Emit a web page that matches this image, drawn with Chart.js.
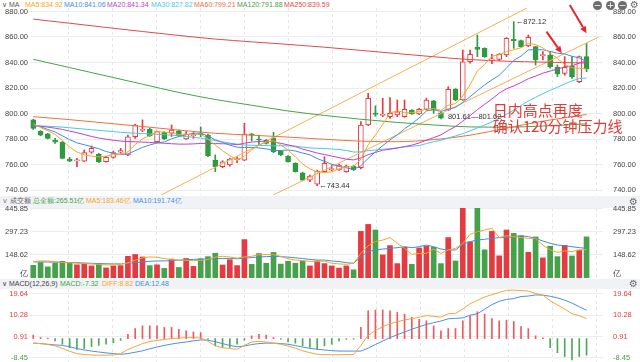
<!DOCTYPE html>
<html>
<head>
<meta charset="utf-8">
<script src="https://cdn.jsdelivr.net/npm/chart.js@4.4.0/dist/chart.umd.min.js"></script>
<style>
html,body{margin:0;padding:0;background:#fff;}
#wrap{position:relative;width:640px;height:362px;overflow:hidden;font-family:"Liberation Sans",Arial,sans-serif;}
.band{position:absolute;left:0;width:640px;background:#f1f2f5;}
.row{position:absolute;left:0;width:640px;height:10px;font-size:7px;line-height:10px;white-space:nowrap;}
.row span{position:absolute;top:0;}
canvas{position:absolute;left:0;}
.ico{position:absolute;width:9px;height:9px;border-radius:50%;background:#6d6d6d;color:#fff;font-size:9px;line-height:9px;text-align:center;font-family:"DejaVu Sans",sans-serif;}
.gear{position:absolute;font-size:10px;line-height:10px;color:#6d6d6d;font-family:"DejaVu Sans",sans-serif;}
</style>
</head>
<body>
<div id="wrap">
  <div class="band" style="top:196px;height:12px"></div>
  <div class="band" style="top:279px;height:10px"></div>
  <div class="row" style="top:0px">
    <span style="left:2px;color:#555">∨ MA</span>
    <span style="left:25px;color:#f5a623">MA5:834.92</span>
    <span style="left:64px;color:#3e8ee6">MA10:841.06</span>
    <span style="left:107px;color:#c23fd0">MA20:841.34</span>
    <span style="left:151px;color:#46c8ea">MA30:827.82</span>
    <span style="left:194px;color:#f07040">MA60:799.21</span>
    <span style="left:237px;color:#46a346">MA120:791.88</span>
    <span style="left:284px;color:#e24a4a">MA250:839.59</span>
  </div>
  <div class="row" style="top:196px">
    <span style="left:2px;color:#555">∨ 成交额</span>
    <span style="left:33px;color:#45a24b">总金额:265.51亿</span>
    <span style="left:86px;color:#f5a623">MA5:183.46亿</span>
    <span style="left:133px;color:#3e8ee6">MA10:191.74亿</span>
  </div>
  <div class="row" style="top:279px">
    <span style="left:2px;color:#444">∨ MACD(12,26,9)</span>
    <span style="left:60px;color:#45a24b">MACD:-7.32</span>
    <span style="left:102px;color:#f5a623">DIFF:8.82</span>
    <span style="left:135px;color:#3e8ee6">DEA:12.48</span>
  </div>
  <canvas id="cMain" width="640" height="196" style="top:0px"></canvas>
  <canvas id="cVol" width="640" height="74" style="top:204px"></canvas>
  <canvas id="cMacd" width="640" height="73" style="top:289px"></canvas>
  <div class="ico" style="left:593px;top:1px">−</div>
  <div class="ico" style="left:606px;top:1px">+</div>
  <div class="ico" style="left:618px;top:1px">−</div>
  <div class="gear" style="left:630px;top:0px">⚙</div>
  <div class="gear" style="left:629px;top:197px">⚙</div>
  <div class="gear" style="left:629px;top:279px">⚙</div>
</div>
<script>
// ---------------- data ----------------
const opens  = [795,786,784,779.2,777.4,764.3,762.9,762.7,769.6,768,762.2,765.6,769.6,767.5,781.8,786.8,787.8,778,785.2,784.5,786.5,780,782.6,784,783.1,763.5,758.3,759.6,763.8,763.5,784,779.7,779.2,781,770.6,766.7,760.9,753.5,747.8,744.6,754.4,756,755.7,754.4,758.8,757.5,791,800.3,798.5,797.5,798.8,797.5,802.7,799.6,803.3,810,800.5,802.7,819.2,810.6,840.6,851.9,851.1,842,842.5,846,858.2,857.1,853,852.4,845.4,845.9,836.2,831.5,837.2,825,844.6];
const highs  = [795.5,786.5,784.5,780.5,778,765.6,764.8,771.4,774.6,768.8,766.5,770.6,772.7,783.1,791.6,795,788.4,786.3,785.8,791,787,785.8,785,789.5,783.9,767.5,763,765,766,792.3,784.3,783.1,779.7,785.3,771,767,761.4,754,751.8,755.5,766.1,759.6,760.3,759.6,759.2,793.6,815.8,806,811.9,812.5,810.6,810.6,803,804,812,810.3,801,821,819.5,849.8,849.8,861.6,851.5,846.4,847,859.5,872.12,857.5,861.6,852.8,848.5,848.5,838,844.6,844.6,845.1,855];
const lows   = [787.5,782.5,780,776.6,764.5,762.2,758.3,762.2,768.8,761.5,761.8,765,768.8,767,780.5,785.8,782,777.4,779.5,782,782,779.7,780.5,781.8,766.1,754.4,757.5,758.8,761.4,763,778.5,775.3,776,769.3,766.8,761.8,754,747.3,746.5,743.44,754,755,755.3,754,755.3,756.5,790.5,797.8,797.5,796.2,797.5,797,799.2,799,802.7,800.1,795.8,802.2,810,810.3,839.4,844.6,844,839,841.5,844.6,851.1,852,852.4,838,842,835.5,829,830,827.6,824.2,832.8];
const closes = [788.4,783,780.5,777.6,764.8,762.7,763.4,769.3,772.7,762,765.6,769.3,770.9,781.8,791,787.5,782.6,785.8,780,787,782.6,783.7,783.4,783.4,767,758.3,762.2,764.3,764.3,783.9,783.1,779.2,776.6,770,767.5,762.2,754.4,747.8,751,754.9,760.9,756.5,759.6,758.8,755.7,791,811.9,799.3,799,800.1,801.4,803.3,799.6,803.3,810.6,802.7,796.3,818.9,810.6,840.6,846.4,850.3,844.6,842.8,846.4,859,857.2,852.4,859.7,842,846,836.7,831,836.2,828.9,844.6,834.92];

const ma5  = [792,789,786.5,783.5,778.9,773.7,769.8,767.6,766.6,766.0,766.6,767.8,768.1,769.9,775.7,780.1,782.8,785.7,785.4,784.6,783.6,783.8,783.3,784.0,780.0,775.2,770.9,767.0,763.2,766.6,771.6,775.1,777.5,778.7,775.4,771.2,766.1,760.4,756.6,754.1,753.8,754.2,756.6,758.1,758.3,764.3,775.4,783.3,791.4,800.3,802.3,800.6,800.7,801.5,803.6,803.9,802.5,806.4,807.8,813.8,822.6,833.4,838.5,844.9,846.1,848.6,850.0,851.6,854.9,854.1,851.5,847.4,843.1,838.4,835.8,835.5,834.92];
const ma10 = [791,789.5,787.5,785.5,782.5,779.5,777,775.5,774,772.4,770.2,768.8,767.8,768.3,770.9,773.4,775.3,776.9,777.7,780.2,781.9,783.3,784.5,784.7,782.3,779.4,777.3,775.2,773.6,773.3,773.4,773.0,772.3,770.9,771.0,771.4,770.6,769.0,767.6,764.7,762.5,760.2,758.5,757.4,756.2,759.1,764.8,770.0,774.8,779.3,783.3,788.0,792.0,796.5,802.0,803.1,801.6,803.5,804.7,808.7,813.2,817.9,822.4,826.4,830.0,835.6,841.7,845.0,849.9,850.1,850.0,848.7,847.3,846.7,844.9,843.5,841.06];
const ma20 = [790.5,790,789.3,788.5,787.5,786.2,785,783.5,782,780.8,779.8,779,778.4,778,777.8,777.6,777.3,777,776.7,776.3,776.0,776.0,776.2,776.5,776.6,776.4,776.3,776.1,775.6,776.7,777.6,778.1,778.4,777.8,776.6,775.4,774.0,772.1,770.6,769.0,767.9,766.6,765.4,764.2,763.6,765.2,767.7,769.5,771.2,772.0,772.9,774.1,775.2,776.9,779.1,781.1,783.2,786.7,789.7,794.0,798.3,803.0,807.2,811.4,816.0,819.4,821.6,824.3,827.3,829.4,831.6,833.3,834.9,836.5,837.4,839.5,841.34];
const ma30 = [790.5,790.3,790,789.7,789.3,788.8,788.3,787.8,787.3,786.8,786.3,785.8,785.3,784.9,784.6,784.3,784,783.7,783.4,783,782.5,782,781.4,780.7,779.8,778.8,777.8,776.8,776,775.3,775.1,775.0,774.9,774.6,774.7,774.7,774.4,773.7,773.0,772.7,772.6,772.1,771.8,771.0,769.8,769.9,770.9,771.4,772.0,772.4,773.1,773.7,774.3,774.9,776.4,777.9,779.0,780.8,782.4,784.2,786.4,788.7,791.0,793.4,796.0,799.3,802.7,806.2,809.8,812.7,815.5,818.2,820.6,823.2,825.6,827.4,827.82];
// slow averages read at every 5th candle
const slowIdx = [0,5,10,15,20,25,30,35,40,45,50,55,60,65,70,76];
const ma60  = [797.5,795.2,792.5,789.8,787,784.5,783,781.5,779.8,778.3,777.9,779.5,783,788.5,794,799.21];
const ma120 = [842.5,836,829.5,823,816.5,811,806.5,802,798.5,795.5,793,791,789.5,789.3,790.2,791.88];
const ma250 = [874,870.8,867.5,864.3,861.2,858.4,856.2,854.2,852,849.5,847,844.5,842.3,841,840.3,839.59];

const volumes = [82,100,72,95,108,95,85,92,78,92,65,78,80,140,152,136,80,85,62,122,68,126,75,124,138,160,84,118,80,248,88,158,95,165,90,108,95,110,78,110,93,78,64,78,53,301,346,310,149,209,93,199,88,194,205,199,93,261,110,467,234,465,182,301,143,310,288,272,166,265,130,205,138,211,142,180,265.51];
const volMa5  = [105,110,110,106,100,98,96,93,90,88,85,84,88,98,115,130,136,134,126,118,116,114,112,114,120,135,140,136,128,136,140,150,152,150,140,124,116,112,108,105,110,95,91,88,95,159,208,235,245,261,224,191,153,159,159,187,159,181,191,224,282,299,310,321,261,273,267,261,256,256,213,181,166,175,170,181,183.46];
const volMa10 = [104,104,103,102,101,100,99,97,95,93,92,91,91,94,99,104,108,110,110,112,115,118,120,122,122,124,126,126,124,128,132,136,138,140,138,135,130,126,120,116,116,110,106,99,95,138,170,181,187,191,196,202,196,202,213,202,187,181,181,218,235,245,250,256,261,261,267,273,267,256,239,224,213,208,202,196,191.74];

const macdHist = [1.5,0.5,0.2,-1,-2.5,-4,-4.8,-4.4,-3.5,-3,-2.5,-1.8,-0.8,1.9,4.4,5.6,5.6,5.6,4.9,4.9,4.1,3.4,2.9,2.6,-0.3,-3.2,-3.9,-3.9,-2.5,-0.8,1.2,1.9,1.5,0.5,-0.3,-1.5,-2,-3.2,-3.9,-4.7,-3.2,-2.5,-1,-0.3,-0.3,4.9,12.2,12.5,12.6,12.2,11.5,10.7,9.3,8.5,7.8,5.6,3.4,4.4,4.4,7.8,10.0,11.8,10.7,8.8,7.8,8.1,7.5,5.3,4.4,1.2,0.3,-4.0,-6.2,-7.9,-9.4,-7.9,-7.32];
const diff = [-2,-2.2,-2.6,-3.2,-4.3,-5.6,-6.6,-7.0,-7.2,-7.3,-7.3,-7.2,-6.6,-4.8,-3.5,-2.2,-1.3,-0.8,-0.4,0.0,0.2,0.4,0.4,0.3,-1.2,-3.2,-4.0,-4.4,-4.7,-3.0,-1.5,-1.2,-1.5,-2.0,-2.5,-3.3,-4.2,-5.4,-6.2,-6.9,-7.0,-7.1,-7.1,-7.0,-7.0,-3.0,1.4,3.6,5.2,6.5,7.4,8.2,8.8,9.4,10.1,9.8,9.4,10.9,11.1,13.0,15.3,16.8,18.3,19.3,20.3,21.2,21.3,21.1,20.9,19.8,19.2,16.6,14.8,13.0,10.9,10.05,8.82];
const dea  = [-2.0,-2.2,-2.5,-2.8,-3.0,-3.6,-4.4,-5.0,-5.5,-5.9,-6.3,-6.6,-6.9,-6.6,-6.0,-5.4,-4.5,-3.7,-3.0,-2.4,-1.9,-1.5,-1.0,-0.6,-0.7,-1.4,-2.2,-3.0,-3.6,-3.3,-2.6,-2.2,-2.0,-2.0,-2.2,-2.5,-3.1,-3.7,-4.3,-4.7,-5.0,-5.3,-5.5,-5.5,-5.5,-5.5,-4.2,-2.6,-1.1,0.4,1.7,2.9,4.1,5.2,6.2,7.0,7.7,8.7,8.9,9.1,10.3,10.9,12.9,14.9,16.4,17.2,17.6,18.5,18.7,19.2,19.1,18.6,17.9,16.9,15.6,14.0,12.48];

const priceTicks = [740,760,780,800,820,840,860,880];
const volTicks   = [26,148.62,297.23,445.85];
const macdTicks  = [-8.45,0.91,10.28,19.64];

// drawn annotations (candle index, price)
const trendUpper = [[17.4,735.6],[67.8,882.7]];
const trendMiddle = [[33.0,736.2],[77.6,859.8]];
const priceNotes = [
  {i:66, p:872.12, text:'←872.12', dx:2},
  {i:39, p:743.44, text:'←743.44', dx:2},
  {i:56, p:797.5, text:'801.61—801.62', dx:7}
];
const redNotes = [
  {i:63.1, p:802.7, text:'日内高点再度'},
  {i:63.1, p:790.2, text:'确认120分钟压力线'}
];
const redArrows = [
  {from:[70.5,864.2], to:[72.6,847.2]},
  {from:[73.7,885.1], to:[76.0,862.9]}
];

// ---------------- styling ----------------
const RED = '#e8393e', GREEN = '#2f9a3f', VRED = '#e53a3f', VGREEN = '#45a24b';
const C_MA5='#f5a623', C_MA10='#3e8ee6', C_MA20='#c23fd0', C_MA30='#46c8ea', C_MA60='#f07040', C_MA120='#46a346', C_MA250='#e24a4a', C_TREND='#f6b04f';
const FONT = '"Liberation Sans", Arial, sans-serif';
const X_MIN = -0.45, X_MAX = 78.26;
const gridIdx = []; for (let g = 4.9; g < X_MAX; g += 6.04) gridIdx.push(g);

const idx = closes.map((_, i) => i);
const up = i => closes[i] >= opens[i];
const pts = arr => arr.map((v, i) => ({x: i, y: v}));

function xScale() {
  return {
    type: 'linear', min: X_MIN, max: X_MAX, offset: false,
    grid: {color: '#e6e6e6', drawTicks: false, offset: false, lineWidth: 1},
    border: {display: false, dash: [3, 3]},
    ticks: {display: false, autoSkip: false},
    afterBuildTicks(ax) { ax.ticks = gridIdx.map(v => ({value: v})); },
    afterFit(ax) { ax.height = 0; ax.paddingLeft = 0; ax.paddingRight = 0; }
  };
}
function yScale(pos, min, max, ticks, fmt, color, grid) {
  return {
    type: 'linear', position: pos, min: min, max: max, offset: false, beginAtZero: false,
    grid: {display: grid, color: ctx => (ctx.tick && ctx.tick.value === 26 && max > 400) ? 'rgba(0,0,0,0)' : '#ededed', drawTicks: false},
    border: {display: false},
    ticks: {padding: pos === 'left' ? 2 : 10, font: {size: 7.5, family: FONT}, color: color, callback: fmt, autoSkip: false},
    afterBuildTicks(ax) { ax.ticks = ticks.map(v => ({value: v})); },
    afterFit(ax) { ax.width = pos === 'left' ? 30 : 37; ax.paddingTop = 0; ax.paddingBottom = 0; }
  };
}
const baseOpts = {
  responsive: false, animation: false, devicePixelRatio: 1,
  events: [],
  plugins: {legend: {display: false}, tooltip: {enabled: false}}
};
function line(data, color, order) {
  return {type: 'line', data: data, borderColor: color, borderWidth: 1, pointRadius: 0, fill: false, tension: 0, order: order || 0};
}

// ---------------- main (candles) ----------------
const annot = {
  id: 'annot',
  afterDatasetsDraw(chart) {
    const ctx = chart.ctx, xs = chart.scales.x, ys = chart.scales.y;
    const px = i => xs.getPixelForValue(i), py = p => ys.getPixelForValue(p);
    ctx.save();
    ctx.textBaseline = 'middle'; ctx.textAlign = 'left';
    ctx.font = '7.5px ' + FONT; ctx.fillStyle = '#333';
    priceNotes.forEach(n => ctx.fillText(n.text, px(n.i) + n.dx, py(n.p)));
    ctx.font = '15px "Noto Sans CJK SC", sans-serif'; ctx.fillStyle = '#e53935';
    redNotes.forEach(n => ctx.fillText(n.text, px(n.i), py(n.p)));
    ctx.strokeStyle = '#e8262a'; ctx.fillStyle = '#e8262a'; ctx.lineWidth = 2;
    redArrows.forEach(a => {
      const x0 = px(a.from[0]), y0 = py(a.from[1]), x1 = px(a.to[0]), y1 = py(a.to[1]);
      const ang = Math.atan2(y1 - y0, x1 - x0), L = 7, W = 3.2;
      const bx = x1 - L * Math.cos(ang), by = y1 - L * Math.sin(ang);
      ctx.beginPath(); ctx.moveTo(x0, y0); ctx.lineTo(bx, by); ctx.stroke();
      ctx.beginPath(); ctx.moveTo(x1, y1);
      ctx.lineTo(bx + W * Math.sin(ang), by - W * Math.cos(ang));
      ctx.lineTo(bx - W * Math.sin(ang), by + W * Math.cos(ang));
      ctx.closePath(); ctx.fill();
    });
    ctx.restore();
  }
};

const fmtPrice = v => Number(v).toFixed(2);
new Chart(document.getElementById('cMain'), {
  type: 'bar',
  data: {
    datasets: [
      {type: 'bar', data: idx.map(i => ({x: i, y: [opens[i], closes[i]]})),
       backgroundColor: idx.map(i => up(i) ? '#ffffff' : GREEN),
       borderColor: idx.map(i => up(i) ? RED : GREEN),
       borderWidth: 1, borderSkipped: false, barThickness: 5, grouped: false, minBarLength: 1, order: 1},
      {type: 'bar', data: idx.map(i => ({x: i, y: [lows[i], highs[i]]})),
       backgroundColor: idx.map(i => up(i) ? RED : GREEN),
       borderWidth: 0, barThickness: 1, grouped: false, order: 2},
      line(pts(ma5), C_MA5), line(pts(ma10), C_MA10), line(pts(ma20), C_MA20), line(pts(ma30), C_MA30),
      Object.assign(line(slowIdx.map((k, j) => ({x: k, y: ma60[j]})), C_MA60), {cubicInterpolationMode: 'monotone'}),
      Object.assign(line(slowIdx.map((k, j) => ({x: k, y: ma120[j]})), C_MA120), {cubicInterpolationMode: 'monotone'}),
      Object.assign(line(slowIdx.map((k, j) => ({x: k, y: ma250[j]})), C_MA250), {cubicInterpolationMode: 'monotone'}),
      line(trendUpper.map(p => ({x: p[0], y: p[1]})), C_TREND),
      line(trendMiddle.map(p => ({x: p[0], y: p[1]})), C_TREND)
    ]
  },
  options: Object.assign({}, baseOpts, {
    layout: {padding: {top: 8, bottom: 1, left: 0, right: 0}},
    scales: {
      x: xScale(),
      y: yScale('left', 736.1, 882.74, priceTicks, fmtPrice, '#444', true),
      y2: yScale('right', 736.1, 882.74, priceTicks, fmtPrice, '#444', false)
    }
  }),
  plugins: [annot]
});

// ---------------- volume ----------------
const fmtVol = v => v < 100 ? '亿' : Number(v).toFixed(2);
new Chart(document.getElementById('cVol'), {
  type: 'bar',
  data: {
    datasets: [
      {type: 'bar', data: idx.map(i => ({x: i, y: volumes[i]})),
       backgroundColor: idx.map(i => up(i) ? VRED : VGREEN), borderWidth: 0,
       barThickness: 5, grouped: false, order: 1},
      line(pts(volMa5), C_MA5), line(pts(volMa10), C_MA10)
    ]
  },
  options: Object.assign({}, baseOpts, {
    layout: {padding: {top: 4, bottom: 0, left: 0, right: 0}},
    scales: {
      x: xScale(),
      y: yScale('left', 0, 452, volTicks, fmtVol, '#444', true),
      y2: yScale('right', 0, 452, volTicks, fmtVol, '#444', false)
    }
  })
});

// ---------------- MACD ----------------
const fmtMacd = v => Number(v).toFixed(2);
const macdColor = ctx => (ctx.tick && ctx.tick.value < 0) ? VGREEN : '#e53a3f';
new Chart(document.getElementById('cMacd'), {
  type: 'bar',
  data: {
    datasets: [
      {type: 'bar', data: idx.map(i => ({x: i, y: macdHist[i]})),
       backgroundColor: idx.map(i => macdHist[i] >= 0 ? '#ea5a5e' : '#4fa857'), borderWidth: 0,
       barThickness: 1, grouped: false, order: 1},
      line(pts(diff), '#f5a340'), line(pts(dea), '#4a90e2')
    ]
  },
  options: Object.assign({}, baseOpts, {
    layout: {padding: {top: 0, bottom: 0, left: 0, right: 0}},
    scales: {
      x: xScale(),
      y: yScale('left', -10.3, 21.8, macdTicks, fmtMacd, macdColor, true),
      y2: yScale('right', -10.3, 21.8, macdTicks, fmtMacd, macdColor, false)
    }
  })
});
</script>
</body>
</html>
